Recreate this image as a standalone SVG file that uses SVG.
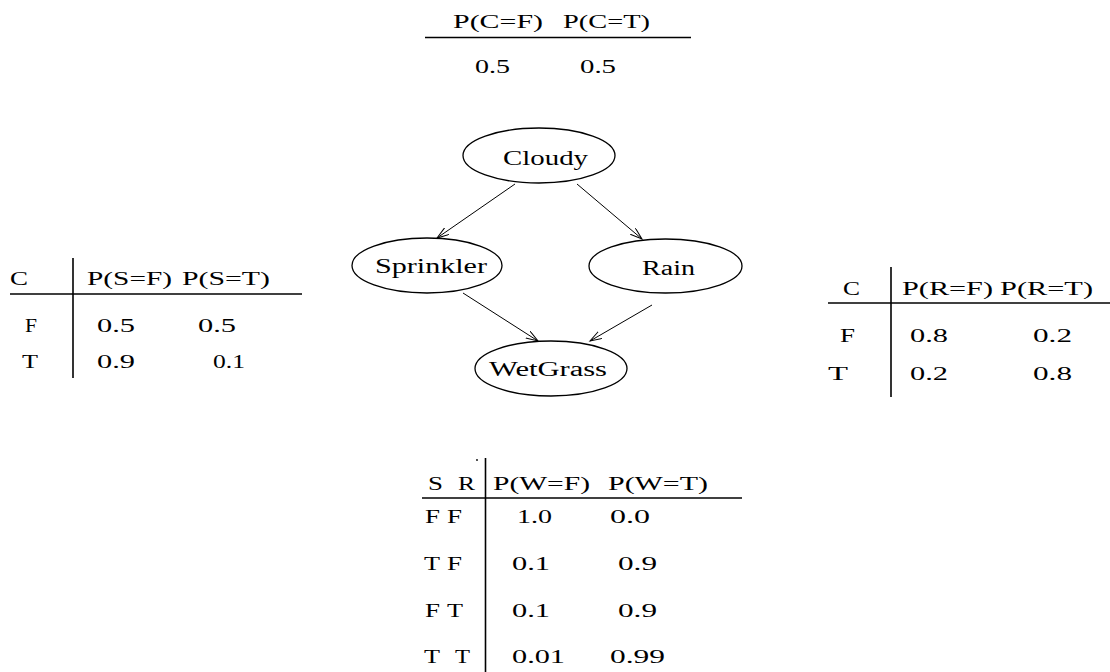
<svg xmlns="http://www.w3.org/2000/svg" width="1110" height="672" viewBox="0 0 1110 672">
  <style>
    .t { font-family: "Liberation Serif", "Times New Roman", serif; font-size: 18px; fill: #000; }
    .n { font-family: "Liberation Serif", "Times New Roman", serif; font-size: 20px; fill: #000; }
    .node { fill: #fff; stroke: #000; stroke-width: 1.3; }
    .rule { stroke: #000; stroke-width: 1.6; fill: none; }
    .edge { stroke: #000; stroke-width: 1; fill: none; marker-end: url(#arrow); }
  </style>
  <defs>
    <marker id="arrow" markerUnits="userSpaceOnUse" markerWidth="14" markerHeight="10" refX="12" refY="4" orient="auto">
      <path d="M0,0 L12,4 L0,8" fill="none" stroke="#000" stroke-width="1"/>
    </marker>
  </defs>
  <rect width="1110" height="672" fill="#fff"/>

  <!-- P(Cloudy) -->
  <g id="cpt-cloudy">
    <text class="t" x="453" y="28" textLength="90" lengthAdjust="spacingAndGlyphs">P(C=F)</text>
    <text class="t" x="563" y="28" textLength="87" lengthAdjust="spacingAndGlyphs">P(C=T)</text>
    <line class="rule" x1="425" y1="37.5" x2="691" y2="37.5"/>
    <text class="t" x="475" y="73" textLength="35" lengthAdjust="spacingAndGlyphs">0.5</text>
    <text class="t" x="580" y="73" textLength="36" lengthAdjust="spacingAndGlyphs">0.5</text>
  </g>

  <!-- edges -->
  <g id="edges">
    <line class="edge" x1="515" y1="184" x2="437" y2="238"/>
    <line class="edge" x1="577" y1="184" x2="642" y2="239"/>
    <line class="edge" x1="463" y1="293" x2="538" y2="341"/>
    <line class="edge" x1="652" y1="305" x2="590" y2="341"/>
  </g>

  <!-- nodes -->
  <g id="node-cloudy">
    <ellipse class="node" cx="539" cy="155.5" rx="76" ry="27.5"/>
    <text class="n" x="503" y="165" textLength="85" lengthAdjust="spacingAndGlyphs">Cloudy</text>
  </g>
  <g id="node-sprinkler">
    <ellipse class="node" cx="427" cy="265.5" rx="75" ry="27.5"/>
    <text class="n" x="375" y="273" textLength="112" lengthAdjust="spacingAndGlyphs">Sprinkler</text>
  </g>
  <g id="node-rain">
    <ellipse class="node" cx="665.5" cy="266" rx="76.5" ry="27"/>
    <text class="n" x="642" y="275" textLength="53" lengthAdjust="spacingAndGlyphs">Rain</text>
  </g>
  <g id="node-wetgrass">
    <ellipse class="node" cx="551" cy="368.5" rx="76" ry="27.5"/>
    <text class="n" x="489" y="376" textLength="118" lengthAdjust="spacingAndGlyphs">WetGrass</text>
  </g>

  <!-- P(Sprinkler | Cloudy) -->
  <g id="cpt-sprinkler">
    <text class="t" x="10" y="285" textLength="18" lengthAdjust="spacingAndGlyphs">C</text>
    <text class="t" x="87" y="285" textLength="85" lengthAdjust="spacingAndGlyphs">P(S=F)</text>
    <text class="t" x="182" y="285" textLength="88" lengthAdjust="spacingAndGlyphs">P(S=T)</text>
    <line class="rule" x1="73" y1="258" x2="73" y2="378"/>
    <line class="rule" x1="10" y1="294" x2="302" y2="294"/>
    <text class="t" x="25" y="332" textLength="12" lengthAdjust="spacingAndGlyphs">F</text>
    <text class="t" x="97" y="332" textLength="38" lengthAdjust="spacingAndGlyphs">0.5</text>
    <text class="t" x="198" y="332" textLength="38" lengthAdjust="spacingAndGlyphs">0.5</text>
    <text class="t" x="22" y="368" textLength="16" lengthAdjust="spacingAndGlyphs">T</text>
    <text class="t" x="97" y="368" textLength="38" lengthAdjust="spacingAndGlyphs">0.9</text>
    <text class="t" x="213" y="368" textLength="32" lengthAdjust="spacingAndGlyphs">0.1</text>
  </g>

  <!-- P(Rain | Cloudy) -->
  <g id="cpt-rain">
    <text class="t" x="843" y="295" textLength="17" lengthAdjust="spacingAndGlyphs">C</text>
    <text class="t" x="902" y="295" textLength="91" lengthAdjust="spacingAndGlyphs">P(R=F)</text>
    <text class="t" x="1000" y="295" textLength="93" lengthAdjust="spacingAndGlyphs">P(R=T)</text>
    <line class="rule" x1="891" y1="267" x2="891" y2="397"/>
    <line class="rule" x1="828" y1="303" x2="1110" y2="303"/>
    <text class="t" x="840" y="342" textLength="15" lengthAdjust="spacingAndGlyphs">F</text>
    <text class="t" x="910" y="342" textLength="38" lengthAdjust="spacingAndGlyphs">0.8</text>
    <text class="t" x="1033" y="342" textLength="39" lengthAdjust="spacingAndGlyphs">0.2</text>
    <text class="t" x="828" y="380" textLength="20" lengthAdjust="spacingAndGlyphs">T</text>
    <text class="t" x="910" y="380" textLength="38" lengthAdjust="spacingAndGlyphs">0.2</text>
    <text class="t" x="1033" y="380" textLength="39" lengthAdjust="spacingAndGlyphs">0.8</text>
  </g>

  <!-- P(WetGrass | Sprinkler, Rain) -->
  <g id="cpt-wetgrass">
    <circle cx="477" cy="460" r="0.9" fill="#000"/>
    <text class="t" x="428" y="490" textLength="15" lengthAdjust="spacingAndGlyphs">S</text>
    <text class="t" x="458" y="490" textLength="17" lengthAdjust="spacingAndGlyphs">R</text>
    <text class="t" x="493" y="490" textLength="97" lengthAdjust="spacingAndGlyphs">P(W=F)</text>
    <text class="t" x="608" y="490" textLength="100" lengthAdjust="spacingAndGlyphs">P(W=T)</text>
    <line class="rule" x1="485.5" y1="458" x2="485.5" y2="672"/>
    <line class="rule" x1="422" y1="498" x2="742" y2="498"/>

    <text class="t" x="425" y="523" textLength="15" lengthAdjust="spacingAndGlyphs">F</text>
    <text class="t" x="447" y="523" textLength="15" lengthAdjust="spacingAndGlyphs">F</text>
    <text class="t" x="517" y="523" textLength="35" lengthAdjust="spacingAndGlyphs">1.0</text>
    <text class="t" x="610" y="523" textLength="40" lengthAdjust="spacingAndGlyphs">0.0</text>

    <text class="t" x="424" y="570" textLength="16" lengthAdjust="spacingAndGlyphs">T</text>
    <text class="t" x="447" y="570" textLength="15" lengthAdjust="spacingAndGlyphs">F</text>
    <text class="t" x="512" y="570" textLength="38" lengthAdjust="spacingAndGlyphs">0.1</text>
    <text class="t" x="618" y="570" textLength="39" lengthAdjust="spacingAndGlyphs">0.9</text>

    <text class="t" x="425" y="617" textLength="15" lengthAdjust="spacingAndGlyphs">F</text>
    <text class="t" x="447" y="617" textLength="16" lengthAdjust="spacingAndGlyphs">T</text>
    <text class="t" x="512" y="617" textLength="38" lengthAdjust="spacingAndGlyphs">0.1</text>
    <text class="t" x="618" y="617" textLength="39" lengthAdjust="spacingAndGlyphs">0.9</text>

    <text class="t" x="424" y="663" textLength="16" lengthAdjust="spacingAndGlyphs">T</text>
    <text class="t" x="455" y="663" textLength="15" lengthAdjust="spacingAndGlyphs">T</text>
    <text class="t" x="512" y="663" textLength="53" lengthAdjust="spacingAndGlyphs">0.01</text>
    <text class="t" x="610" y="663" textLength="55" lengthAdjust="spacingAndGlyphs">0.99</text>
  </g>
</svg>
